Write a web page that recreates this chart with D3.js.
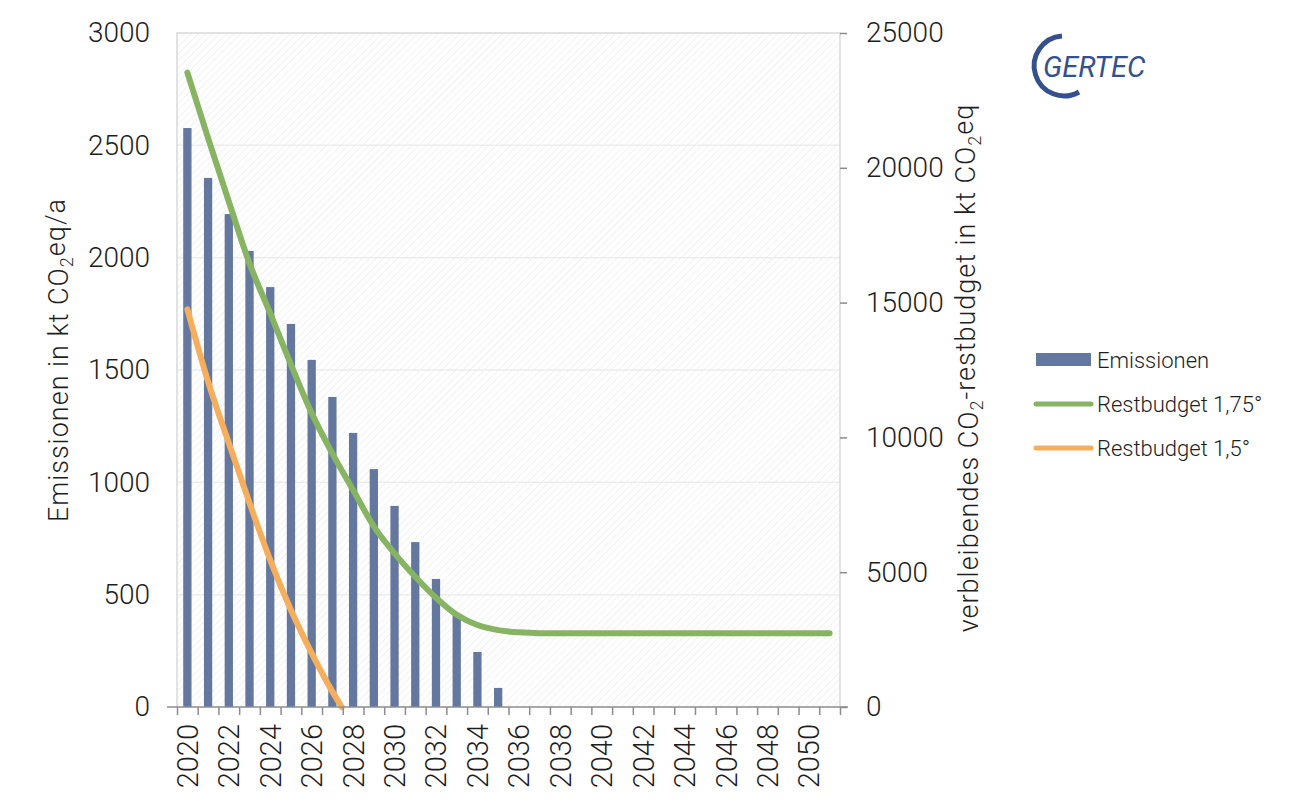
<!DOCTYPE html>
<html lang="de">
<head>
<meta charset="UTF-8">
<title>Emissionen und Restbudget</title>
<script src="https://d3js.org/d3.v7.min.js"></script>
<style>
    body { margin: 0; background: #fff; font-family: Roboto, "Liberation Sans", Arial, sans-serif; }
    svg text { fill: #1e1e1e; font-weight: 300; }
</style>
</head>
<body>
<script>
    // categories
    const years = [2020, 2021, 2022, 2023, 2024, 2025, 2026, 2027, 2028, 2029,
                   2030, 2031, 2032, 2033, 2034, 2035, 2036, 2037, 2038, 2039,
                   2040, 2041, 2042, 2043, 2044, 2045, 2046, 2047, 2048, 2049,
                   2050, 2051];
    const yearLabels = [2020, 2022, 2024, 2026, 2028, 2030, 2032, 2034, 2036, 2038,
                        2040, 2042, 2044, 2046, 2048, 2050];

    // Emissionen in kt CO2eq/a (left axis)
    const emissions = [2577, 2355, 2194, 2030, 1869, 1705, 1545, 1380, 1220, 1059,
                       895, 734, 570, 409, 245, 85, 0, 0, 0, 0,
                       0, 0, 0, 0, 0, 0, 0, 0, 0, 0,
                       0, 0];

    // Restbudget 1,75° in kt CO2eq (right axis)
    const budget175 = [23530, 21100, 18750, 16450, 14600, 12700, 10900, 9400, 8050, 6700,
                       5700, 4830, 4050, 3420, 3040, 2850, 2770, 2740, 2740, 2740,
                       2740, 2740, 2740, 2740, 2740, 2740, 2740, 2740, 2740, 2740,
                       2740, 2740];

    // Restbudget 1,5° (runs out during 2027)
    const budget15Years = [2020, 2021, 2022, 2023, 2024, 2025, 2026, 2027, 2027.45];
    const budget15 = [14750, 12070, 9790, 7570, 5450, 3600, 2000, 570, 0];

    const leftTicks = [0, 500, 1000, 1500, 2000, 2500, 3000];
    const rightTicks = [0, 5000, 10000, 15000, 20000, 25000];

    const margin = {top: 33, left: 177};
    const width = 663, height = 674;

    const svg = d3.select("body").append("svg")
        .attr("width", 1297)
        .attr("height", 803);

    // hatch background
    const defs = svg.append("defs");
    const pat = defs.append("pattern")
        .attr("id", "hatch")
        .attr("width", 5).attr("height", 5)
        .attr("patternUnits", "userSpaceOnUse")
        .attr("patternTransform", "rotate(45)");
    pat.append("rect").attr("width", 5).attr("height", 5).attr("fill", "#fff");
    pat.append("line")
        .attr("x1", 0).attr("y1", 0).attr("x2", 0).attr("y2", 5)
        .attr("stroke", "#eeeeee").attr("stroke-width", 1.6);

    const g = svg.append("g").attr("transform", `translate(${margin.left},${margin.top})`);

    const xBand = d3.scaleBand().domain(years).range([0, width])
        .paddingInner(0.6).paddingOuter(0.3);
    const xLin = d3.scaleLinear().domain([years[0] - 0.5, years[years.length - 1] + 0.5]).range([0, width]);
    const yLeft = d3.scaleLinear().domain([0, 3000]).range([height, 0]);
    const yRight = d3.scaleLinear().domain([0, 25000]).range([height, 0]);

    g.append("rect").attr("width", width).attr("height", height).attr("fill", "url(#hatch)");

    // gridlines
    g.append("g").selectAll("line")
        .data(leftTicks.slice(1, -1))
        .join("line")
        .attr("x1", 0).attr("x2", width)
        .attr("y1", d => yLeft(d)).attr("y2", d => yLeft(d))
        .attr("stroke", "#ededed").attr("stroke-width", 1.5);

    // plot border (left, top, right)
    g.append("path")
        .attr("d", `M0,${height}V0H${width}V${height}`)
        .attr("fill", "none").attr("stroke", "#d9d9d9").attr("stroke-width", 1.5);

    // bars
    g.append("g").selectAll("rect")
        .data(years.map((y, i) => ({year: y, value: emissions[i]})).filter(d => d.value > 0))
        .join("rect")
        .attr("x", d => xBand(d.year))
        .attr("width", xBand.bandwidth())
        .attr("y", d => yLeft(d.value))
        .attr("height", d => height - yLeft(d.value))
        .attr("fill", "#64779f");

    // lines
    const line = d3.line()
        .x(d => xLin(d.year))
        .y(d => yRight(d.value))
        .curve(d3.curveMonotoneX);

    g.append("path")
        .datum(years.map((y, i) => ({year: y, value: budget175[i]})))
        .attr("d", line)
        .attr("fill", "none").attr("stroke", "#86b462")
        .attr("stroke-width", 6).attr("stroke-linecap", "round").attr("stroke-linejoin", "round");

    g.append("path")
        .datum(budget15Years.map((y, i) => ({year: y, value: budget15[i]})))
        .attr("d", line)
        .attr("fill", "none").attr("stroke", "#f4ae5c")
        .attr("stroke-width", 6).attr("stroke-linecap", "round").attr("stroke-linejoin", "round");

    // left axis
    const axL = g.append("g")
        .call(d3.axisLeft(yLeft).tickValues(leftTicks).tickFormat(d3.format("d")).tickSize(0).tickPadding(27));
    axL.select(".domain").remove();
    axL.selectAll("text").style("font-size", "28px").style("font-family", "Roboto");

    // right axis
    const axR = g.append("g").attr("transform", `translate(${width},0)`)
        .call(d3.axisRight(yRight).tickValues(rightTicks).tickFormat(d3.format("d")).tickSize(7).tickPadding(19));
    axR.select(".domain").remove();
    axR.selectAll("line").attr("stroke", "#8c8c8c").attr("stroke-width", 1.5);
    axR.selectAll("text").style("font-size", "28px").style("font-family", "Roboto");

    // bottom axis: tick marks between categories
    const boundaries = years.concat([years[years.length - 1] + 1]).map(y => y - 0.5);
    const axB = g.append("g").attr("transform", `translate(0,${height})`)
        .call(d3.axisBottom(xLin).tickValues(boundaries).tickFormat("").tickSize(8).tickSizeOuter(0));
    axB.select(".domain").attr("d", `M-10,0H${width + 8}`).attr("stroke", "#8c8c8c").attr("stroke-width", 1.5);
    axB.selectAll("line").attr("stroke", "#8c8c8c").attr("stroke-width", 1.5);

    // year labels
    const axY = g.append("g").attr("transform", `translate(0,${height})`)
        .call(d3.axisBottom(xBand).tickValues(yearLabels).tickSize(0).tickPadding(0));
    axY.select(".domain").remove();
    axY.selectAll("text")
        .attr("transform", "rotate(-90)")
        .attr("x", -17).attr("y", 0).attr("dy", "0.36em")
        .attr("text-anchor", "end")
        .style("font-size", "29px").style("font-family", "Roboto");

    // axis titles
    const tL = svg.append("text")
        .attr("transform", `translate(68,${margin.top + 327}) rotate(-90)`)
        .attr("text-anchor", "middle")
        .style("font-size", "27px").style("letter-spacing", "1px");
    tL.append("tspan").text("Emissionen in kt CO");
    tL.append("tspan").attr("dy", "0.3em").style("font-size", "18px").text("2");
    tL.append("tspan").attr("dy", "-0.3em").text("eq/a");

    const tR = svg.append("text")
        .attr("transform", `translate(978,${margin.top + 335}) rotate(-90)`)
        .attr("text-anchor", "middle")
        .style("font-size", "27px").style("letter-spacing", "1px");
    tR.append("tspan").text("verbleibendes CO");
    tR.append("tspan").attr("dy", "0.3em").style("font-size", "18px").text("2");
    tR.append("tspan").attr("dy", "-0.3em").text("-restbudget in kt CO");
    tR.append("tspan").attr("dy", "0.3em").style("font-size", "18px").text("2");
    tR.append("tspan").attr("dy", "-0.3em").text("eq");

    // legend
    const legendItems = [
        {name: "Emissionen", type: "bar", color: "#64779f"},
        {name: "Restbudget 1,75°", type: "line", color: "#86b462"},
        {name: "Restbudget 1,5°", type: "line", color: "#f4ae5c"}
    ];
    const legend = svg.append("g").attr("transform", "translate(1036,360)");
    legendItems.forEach((d, i) => {
        const row = legend.append("g").attr("transform", `translate(0,${i * 44})`);
        if (d.type === "bar") {
            row.append("rect").attr("x", 0).attr("y", -7).attr("width", 55).attr("height", 13).attr("fill", d.color);
        } else {
            row.append("line").attr("x1", 0).attr("x2", 55).attr("y1", 0).attr("y2", 0)
                .attr("stroke", d.color).attr("stroke-width", 5).attr("stroke-linecap", "round");
        }
        row.append("text").attr("x", 61).attr("y", 0).attr("dy", "0.35em")
            .style("font-size", "22px").text(d.name);
    });

    // logo
    const logo = svg.append("g").attr("transform", "translate(1053,65)");
    logo.append("path")
        .attr("d", "M9,-29 A30,30 0 1,0 26,27")
        .attr("fill", "none").attr("stroke", "#34508f").attr("stroke-width", 5);
    logo.append("text")
        .attr("x", -10).attr("y", 12)
        .style("font-size", "29px").style("font-style", "italic").style("font-weight", "400")
        .style("fill", "#34508f")
        .text("GERTEC");
</script>
</body>
</html>
